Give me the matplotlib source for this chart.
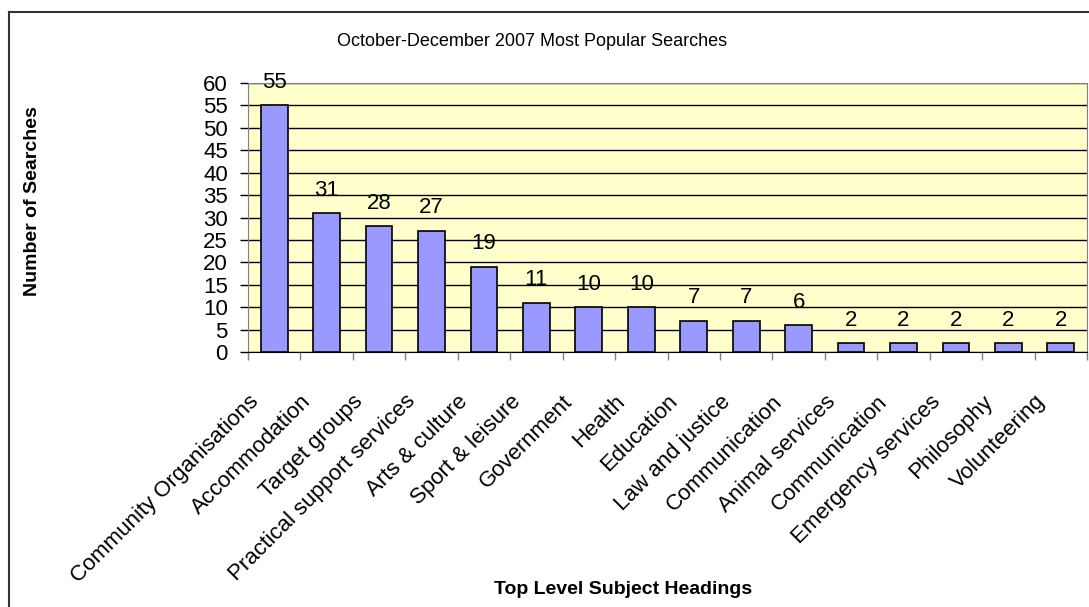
import matplotlib
matplotlib.use("Agg")
import matplotlib.pyplot as plt
import numpy as np
from matplotlib.lines import Line2D

plt.rcParams['font.family'] = ['Liberation Sans', 'DejaVu Sans']

# data
categories = ["Community Organisations", "Accommodation", "Target groups",
              "Practical support services", "Arts & culture", "Sport & leisure",
              "Government", "Health", "Education", "Law and justice",
              "Communication", "Animal services", "Communication",
              "Emergency services", "Philosophy", "Volunteering"]
searches = [55, 31, 28, 27, 19, 11, 10, 10, 7, 7, 6, 2, 2, 2, 2, 2]
y_ticks = list(range(0, 61, 5))

W, H = 1089, 607
fig = plt.figure(figsize=(W / 100, H / 100), dpi=100)
fig.patch.set_facecolor('white')

ax = fig.add_axes([248 / W, 1 - 352 / H, (1087 - 248) / W, (352 - 83) / H])
ax.set_facecolor('#FFFFCC')

x = np.arange(len(categories))
ax.bar(x, searches, width=0.51, color='#9999FF', edgecolor='black', linewidth=1.2, zorder=3)

for xi, v in zip(x, searches):
    ax.annotate(str(v), (xi, v), xytext=(0, 9), textcoords='offset points',
                ha='center', va='bottom', fontsize=16)

ax.set_xlim(-0.5, len(categories) - 0.5)
ax.set_ylim(0, 60)
ax.set_yticks(y_ticks)
ax.tick_params(axis='y', labelsize=16, length=6, width=1, pad=8.5, direction='out')
ax.yaxis.grid(True, color='black', linewidth=1, zorder=1)
ax.set_axisbelow(True)

# ticks between categories, labels at centres
ax.set_xticks(np.arange(len(categories) + 1) - 0.5)
ax.set_xticklabels([])
ax.tick_params(axis='x', length=6, width=1, direction='out', color='#808080')
for xi, lab in zip(x, categories):
    ax.annotate(lab, (xi, 0), xytext=(-19, -28), textcoords='offset points',
                ha='right', va='top', rotation=45, rotation_mode='anchor',
                fontsize=16, annotation_clip=False)

for side in ['top', 'right']:
    ax.spines[side].set_color('#808080')
ax.spines['left'].set_color('#808080')
ax.spines['bottom'].set_color('black')

fig.text(532 / W, 1 - 42 / H, "October-December 2007 Most Popular Searches",
         ha='center', va='center', fontsize=13)
fig.text(33 / W, 1 - 201 / H, "Number of Searches", rotation=90,
         ha='center', va='center', fontsize=14, fontweight='bold')
fig.text(623 / W, 1 - 590 / H, "Top Level Subject Headings",
         ha='center', va='center', fontsize=14, fontweight='bold')

# outer chart border (cut off at right and bottom)
fig.add_artist(Line2D([9 / W, 9 / W], [0, 1 - 12 / H], color='#333333', linewidth=1.5))
fig.add_artist(Line2D([9 / W, 1], [1 - 12 / H, 1 - 12 / H], color='#333333', linewidth=1.5))

fig.savefig("out.png", dpi=100)
